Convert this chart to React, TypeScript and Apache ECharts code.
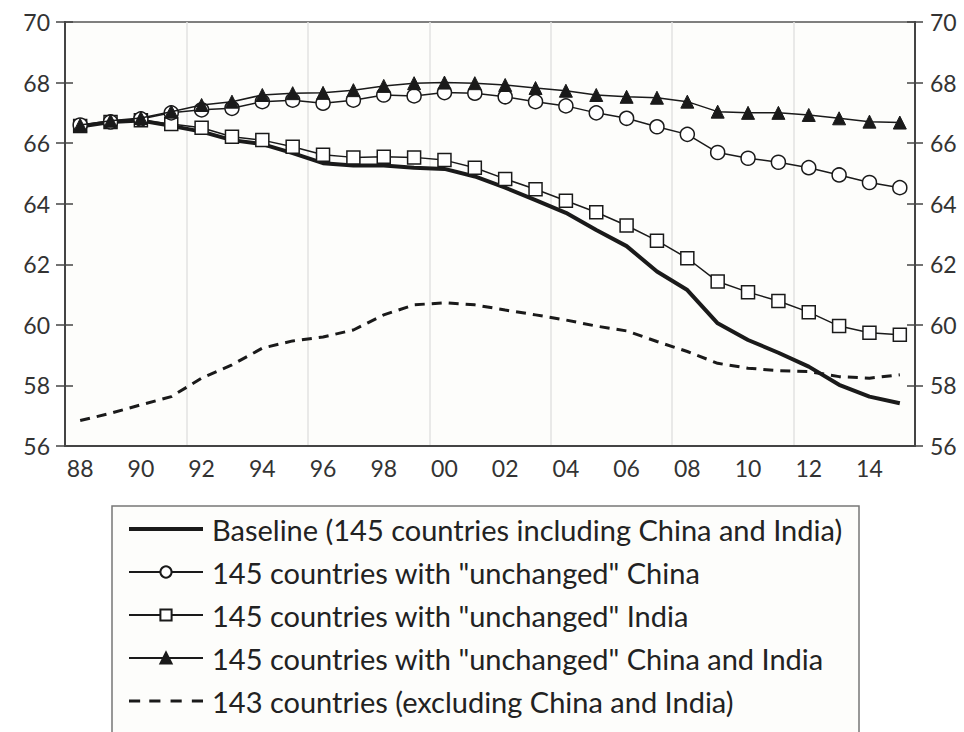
import React, { useEffect, useRef } from "react";
import * as echarts from "echarts";

// Years 1988–2015
const years = [
  "1988", "1989", "1990", "1991", "1992", "1993", "1994", "1995", "1996", "1997",
  "1998", "1999", "2000", "2001", "2002", "2003", "2004", "2005", "2006", "2007",
  "2008", "2009", "2010", "2011", "2012", "2013", "2014", "2015",
];

const baseline = [
  66.55, 66.7, 66.75, 66.57, 66.38, 66.1, 65.97, 65.67, 65.34, 65.26,
  65.26, 65.19, 65.15, 64.9, 64.53, 64.12, 63.7, 63.13, 62.6, 61.76,
  61.15, 60.05, 59.5, 59.08, 58.62, 58.02, 57.63, 57.41,
];

const unchangedChina = [
  66.6, 66.7, 66.8, 67.0, 67.1, 67.15, 67.37, 67.42, 67.32, 67.42,
  67.59, 67.56, 67.67, 67.65, 67.53, 67.37, 67.23, 67.0, 66.82, 66.54,
  66.29, 65.69, 65.5, 65.37, 65.19, 64.95, 64.7, 64.53,
];

const unchangedIndia = [
  66.57, 66.7, 66.76, 66.63, 66.51, 66.21, 66.1, 65.88, 65.62, 65.53,
  65.55, 65.53, 65.44, 65.19, 64.82, 64.48, 64.1, 63.72, 63.28, 62.78,
  62.2, 61.43, 61.08, 60.79, 60.42, 59.96, 59.74, 59.67,
];

const unchangedBoth = [
  66.6, 66.74, 66.83, 67.04, 67.26, 67.37, 67.59, 67.65, 67.66, 67.75,
  67.89, 67.98, 68.0, 67.98, 67.92, 67.82, 67.73, 67.59, 67.53, 67.5,
  67.37, 67.04, 67.0, 67.0, 66.93, 66.82, 66.71, 66.68,
];

const excludingChinaIndia = [
  56.84, 57.08, 57.36, 57.63, 58.24, 58.68, 59.23, 59.47, 59.6, 59.83,
  60.33, 60.66, 60.73, 60.66, 60.49, 60.33, 60.16, 59.96, 59.8, 59.45,
  59.12, 58.73, 58.57, 58.49, 58.46, 58.29, 58.24, 58.35,
];

const seriesNames = [
  "Baseline (145 countries including China and India)",
  '145 countries with "unchanged" China',
  '145 countries with "unchanged" India',
  '145 countries with "unchanged" China and India',
  "143 countries (excluding China and India)",
];

const FONT = "Lato, 'Open Sans', sans-serif";
const INK = "#1a1a1a";

// Legend keys for the two marker-less lines: a solid thick bar and four dashes
const SOLID_KEY = "path://M0,0 L73,0 L73,4 L0,4 Z";
const DASH_KEY =
  "path://M0,0h11v3h-11z M20,0h11v3h-11z M41,0h11v3h-11z M62,0h11v3h-11z";

export default function App() {
  const ref = useRef<HTMLDivElement>(null);

  useEffect(() => {
    if (!ref.current) return;
    const chart = echarts.init(ref.current, null, { renderer: "svg" });

    const yBase = {
      type: "value" as const,
      min: 56,
      max: 70,
      interval: 2,
      splitLine: { show: false },
      axisLine: { show: true, lineStyle: { color: "#444", width: 2 } },
    };

    chart.setOption({
      animation: false,
      backgroundColor: "#ffffff",
      textStyle: { fontFamily: FONT },
      grid: {
        left: 65,
        right: 49,
        top: 22,
        bottom: 286,
        show: true,
        borderColor: "#555",
        borderWidth: 1.5,
        backgroundColor: "#fdfdfb",
      },
      xAxis: {
        type: "category",
        data: years,
        boundaryGap: true,
        axisLine: { lineStyle: { color: "#444", width: 2 } },
        axisTick: { show: false },
        axisLabel: {
          interval: 1,
          margin: 10,
          color: "#333",
          fontSize: 23,
          fontFamily: FONT,
          formatter: (v: string) => v.slice(2),
        },
        splitLine: {
          show: true,
          interval: 3,
          lineStyle: { color: "#e2e2e2", width: 1.5 },
        },
      },
      yAxis: [
        {
          ...yBase,
          position: "left",
          axisTick: { show: true, inside: false, length: 9, lineStyle: { color: "#444", width: 1.5 } },
          axisLabel: { margin: 15, color: "#333", fontSize: 23, fontFamily: FONT },
        },
        {
          ...yBase,
          position: "left",
          axisTick: { show: true, inside: true, length: 8, lineStyle: { color: "#444", width: 1.5 } },
          axisLabel: { show: false },
        },
        {
          ...yBase,
          position: "right",
          axisTick: { show: true, inside: false, length: 8, lineStyle: { color: "#444", width: 1.5 } },
          axisLabel: { margin: 15, color: "#333", fontSize: 23, fontFamily: FONT },
        },
        {
          ...yBase,
          position: "right",
          axisTick: { show: true, inside: true, length: 8, lineStyle: { color: "#444", width: 1.5 } },
          axisLabel: { show: false },
        },
      ],
      graphic: [
        {
          type: "rect",
          shape: { x: 112, y: 506, width: 747, height: 260 },
          style: { fill: "#fdfdfb", stroke: "#777", lineWidth: 1.5 },
          z: 0,
        },
      ],
      legend: {
        orient: "vertical",
        left: 123,
        top: 509,
        data: [
          { name: seriesNames[0], icon: SOLID_KEY },
          { name: seriesNames[1] },
          { name: seriesNames[2] },
          { name: seriesNames[3] },
          { name: seriesNames[4], icon: DASH_KEY },
        ],
        selectedMode: false,
        itemWidth: 74,
        itemHeight: 14,
        itemGap: 13,
        z: 10,
        textStyle: {
          color: "#222",
          fontSize: 29,
          fontFamily: FONT,
          lineHeight: 30,
          padding: [0, 0, 0, 4],
        },
      },
      series: [
        {
          name: seriesNames[4],
          type: "line",
          data: excludingChinaIndia,
          symbol: "none",
          lineStyle: { color: INK, width: 3, type: [10, 7] },
          itemStyle: { color: INK },
          z: 2,
        },
        {
          name: seriesNames[0],
          type: "line",
          data: baseline,
          symbol: "none",
          lineStyle: { color: INK, width: 4 },
          itemStyle: { color: INK },
          z: 3,
        },
        {
          name: seriesNames[2],
          type: "line",
          data: unchangedIndia,
          symbol: "rect",
          symbolSize: 13,
          lineStyle: { color: INK, width: 1.5 },
          itemStyle: { color: "#ffffff", borderColor: INK, borderWidth: 1.5 },
          z: 4,
        },
        {
          name: seriesNames[1],
          type: "line",
          data: unchangedChina,
          symbol: "circle",
          symbolSize: 14,
          lineStyle: { color: INK, width: 1.5 },
          itemStyle: { color: "#ffffff", borderColor: INK, borderWidth: 1.5 },
          z: 5,
        },
        {
          name: seriesNames[3],
          type: "line",
          data: unchangedBoth,
          symbol: "triangle",
          symbolSize: 13,
          lineStyle: { color: INK, width: 1.5 },
          itemStyle: { color: INK, borderColor: INK, borderWidth: 1 },
          z: 6,
        },
      ],
    });

    return () => chart.dispose();
  }, []);

  return <div ref={ref} style={{ width: 964, height: 732, position: "absolute", left: 0, top: 0 }} />;
}
